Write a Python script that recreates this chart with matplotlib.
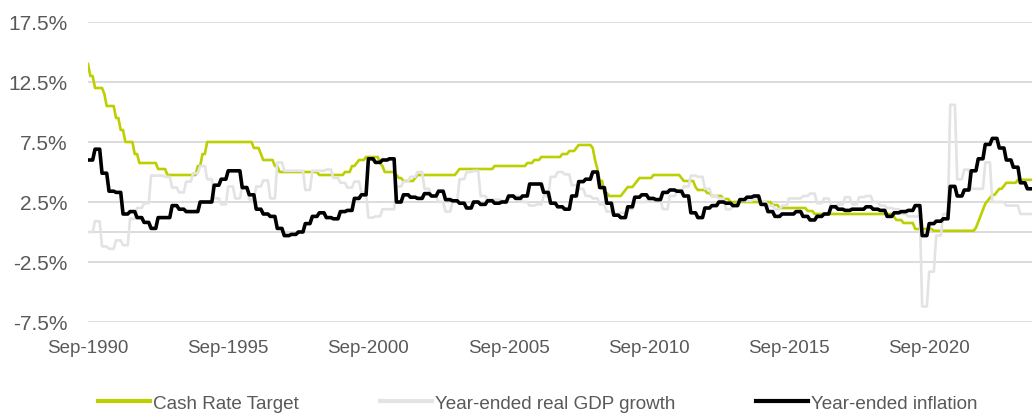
import numpy as np
import pandas as pd
import matplotlib
matplotlib.use("Agg")
import matplotlib.pyplot as plt

plt.rcParams['font.family'] = ['Liberation Sans', 'DejaVu Sans']

# ---------------- data ----------------
start_month = "1990-09"   # first month shown
n_months = 405            # Sep-1990 .. May-2024

# RBA cash rate target: (month of change, new rate %)
cash_change_months = [
    "1990-09", "1990-10", "1990-12", "1991-04", "1991-05", "1991-09", "1991-11",
    "1992-01", "1992-05", "1992-07", "1993-03", "1993-07", "1994-08", "1994-10",
    "1994-12", "1996-08", "1996-11", "1996-12", "1997-05", "1997-07", "1998-12",
    "1999-11", "2000-02", "2000-04", "2000-05", "2000-08", "2001-02", "2001-03",
    "2001-04", "2001-09", "2001-10", "2001-12", "2002-05", "2002-06", "2003-11",
    "2003-12", "2005-03", "2006-05", "2006-08", "2006-11", "2007-08", "2007-11",
    "2008-02", "2008-03", "2008-09", "2008-10", "2008-11", "2008-12", "2009-02",
    "2009-04", "2009-10", "2009-11", "2009-12", "2010-03", "2010-04", "2010-05",
    "2010-11", "2011-11", "2011-12", "2012-05", "2012-06", "2012-10", "2012-12",
    "2013-05", "2013-08", "2015-02", "2015-05", "2016-05", "2016-08", "2019-06",
    "2019-07", "2019-10", "2020-03", "2020-11", "2022-05", "2022-06", "2022-07",
    "2022-08", "2022-09", "2022-10", "2022-11", "2022-12", "2023-02", "2023-03",
    "2023-05", "2023-06", "2023-11",
]
cash_change_rates = [
    14.00, 13.00, 12.00, 11.50, 10.50, 9.50, 8.50,
    7.50, 6.50, 5.75, 5.25, 4.75, 5.50, 6.50,
    7.50, 7.00, 6.50, 6.00, 5.50, 5.00, 4.75,
    5.00, 5.50, 5.75, 6.00, 6.25, 5.75, 5.50,
    5.00, 4.75, 4.50, 4.25, 4.50, 4.75, 5.00,
    5.25, 5.50, 5.75, 6.00, 6.25, 6.50, 6.75,
    7.00, 7.25, 7.00, 6.00, 5.25, 4.25, 3.25,
    3.00, 3.25, 3.50, 3.75, 4.00, 4.25, 4.50,
    4.75, 4.50, 4.25, 3.75, 3.50, 3.25, 3.00,
    2.75, 2.50, 2.25, 2.00, 1.75, 1.50, 1.25,
    1.00, 0.75, 0.25, 0.10, 0.35, 0.85, 1.35,
    1.85, 2.35, 2.60, 2.85, 3.10, 3.35, 3.60,
    3.85, 4.10, 4.35,
]

# Year-ended real GDP growth, quarterly (Sep-1990 .. Mar-2024), %
gdp_growth_q = [
    0.0, 0.9,
    -1.2, -1.4, -0.7, -1.1,
    1.1, 2.0, 2.4, 4.7,
    4.7, 4.6, 3.7, 3.3,
    4.2, 4.9, 5.5, 4.4,
    2.8, 2.3, 3.8, 2.8,
    3.8, 2.7, 3.8, 4.3,
    2.8, 5.8, 5.1, 5.1,
    5.1, 3.5, 5.1, 5.1,
    5.2, 4.5, 4.1, 3.7,
    4.2, 3.3, 1.2, 1.3,
    1.9, 1.9, 3.8, 4.2,
    4.6, 5.0, 3.6, 3.0,
    2.5, 1.7, 2.5, 4.4,
    5.0, 5.1, 3.0, 2.7,
    2.7, 2.6, 2.9, 3.0,
    2.5, 2.2, 2.3, 3.0,
    4.6, 5.0, 4.8, 3.9,
    3.6, 3.0, 2.8, 2.3,
    1.7, 1.5, 1.6, 1.9,
    2.5, 2.5, 2.7, 2.7,
    1.9, 3.0, 3.3, 3.8,
    4.7, 4.6, 3.6, 3.0,
    2.8, 1.9, 2.2, 2.6,
    2.6, 2.8, 2.5, 2.2,
    1.9, 2.2, 2.8, 2.8,
    3.0, 3.2, 2.4, 2.8,
    2.2, 2.3, 2.9, 2.3,
    2.9, 3.0, 2.5, 2.2,
    2.0, 1.9, 1.5, 1.3,
    1.3, -6.2, -3.3, -0.3,
    1.5, 10.6, 4.4, 5.2,
    3.6, 3.6, 5.8, 2.5,
    2.5, 2.2, 2.2, 1.5,
    1.5,
]

# Year-ended CPI inflation, quarterly (Sep-1990 .. Mar-2024), %
inflation_q = [
    6.0, 6.9,
    4.9, 3.4, 3.3, 1.5,
    1.7, 1.2, 0.8, 0.3,
    1.2, 1.2, 2.2, 1.9,
    1.7, 1.7, 2.5, 2.5,
    3.9, 4.4, 5.1, 5.1,
    3.7, 3.1, 1.9, 1.5,
    1.3, 0.3, -0.3, -0.2,
    0.0, 0.7, 1.3, 1.6,
    1.2, 1.1, 1.7, 1.8,
    2.8, 3.1, 6.1, 5.8,
    6.0, 6.1, 2.5, 3.1,
    2.9, 2.8, 3.2, 3.0,
    3.4, 2.7, 2.6, 2.4,
    2.0, 2.5, 2.3, 2.6,
    2.4, 2.5, 3.0, 2.8,
    3.0, 4.0, 4.0, 3.3,
    2.4, 2.1, 1.9, 3.0,
    4.2, 4.4, 5.0, 3.7,
    2.4, 1.4, 1.2, 2.1,
    2.9, 3.1, 2.8, 2.7,
    3.3, 3.5, 3.4, 3.0,
    1.6, 1.2, 2.0, 2.2,
    2.5, 2.4, 2.2, 2.7,
    2.9, 3.0, 2.3, 1.7,
    1.3, 1.5, 1.5, 1.7,
    1.3, 1.0, 1.3, 1.5,
    2.1, 1.9, 1.8, 1.9,
    1.9, 2.1, 1.9, 1.8,
    1.3, 1.6, 1.7, 1.8,
    2.2, -0.3, 0.7, 0.9,
    1.1, 3.8, 3.0, 3.5,
    5.1, 6.1, 7.3, 7.8,
    7.0, 6.0, 5.4, 4.1,
    3.6,
]

series_labels = ["Cash Rate Target", "Year-ended real GDP growth", "Year-ended inflation"]
y_ticks = [-7.5, -2.5, 2.5, 7.5, 12.5, 17.5]
x_tick_every_months = 60

# ---------------- build monthly series ----------------
months = pd.period_range(start_month, periods=n_months, freq="M")
cash = (pd.Series(cash_change_rates, index=pd.PeriodIndex(cash_change_months, freq="M"))
        .reindex(months).ffill().values)
gdp = np.repeat(gdp_growth_q, 3)[:n_months]
infl = np.repeat(inflation_q, 3)[:n_months]
x = np.arange(n_months)

# ---------------- plot ----------------
W, H = 1036, 414
fig = plt.figure(figsize=(W / 100, H / 100), dpi=100)
ax = fig.add_axes([88 / W, 1 - 323 / H, 944 / W, 300 / H])

grid_col = "#D9D9D9"
text_col = "#595959"

for yv in y_ticks:
    ax.axhline(yv, color=grid_col, lw=1.3, zorder=0)
ax.axhline(0, color=grid_col, lw=1.3, zorder=0)

ax.plot(x, cash, color="#BCCF00", lw=1.9, label=series_labels[0], zorder=2)
ax.plot(x, gdp, color="#E3E3E3", lw=1.9, label=series_labels[1], zorder=3)
ax.plot(x, infl, color="#000000", lw=2.6, label=series_labels[2], zorder=4)

ax.set_xlim(0, n_months - 1)
ax.set_ylim(y_ticks[0], y_ticks[-1])
ax.set_yticks(y_ticks)
ax.set_yticklabels([f"{v:.1f}%" for v in y_ticks])
xt = x[::x_tick_every_months]
ax.set_xticks(xt)
ax.set_xticklabels([months[i].strftime("%b-%Y") for i in xt])

for s in ax.spines.values():
    s.set_visible(False)
ax.tick_params(axis="both", length=0, colors=text_col)
ax.tick_params(axis="y", pad=14.5, labelsize=15)
ax.tick_params(axis="x", pad=12, labelsize=13.5)

leg = fig.legend(loc="center", bbox_to_anchor=(0.519, 0.024), ncol=3, frameon=False,
                 fontsize=13.6, handlelength=2.75, handletextpad=0.15, columnspacing=4.3)
for t in leg.get_texts():
    t.set_color(text_col)
for l in leg.get_lines():
    l.set_linewidth(3)

fig.savefig("out.png", dpi=100)
